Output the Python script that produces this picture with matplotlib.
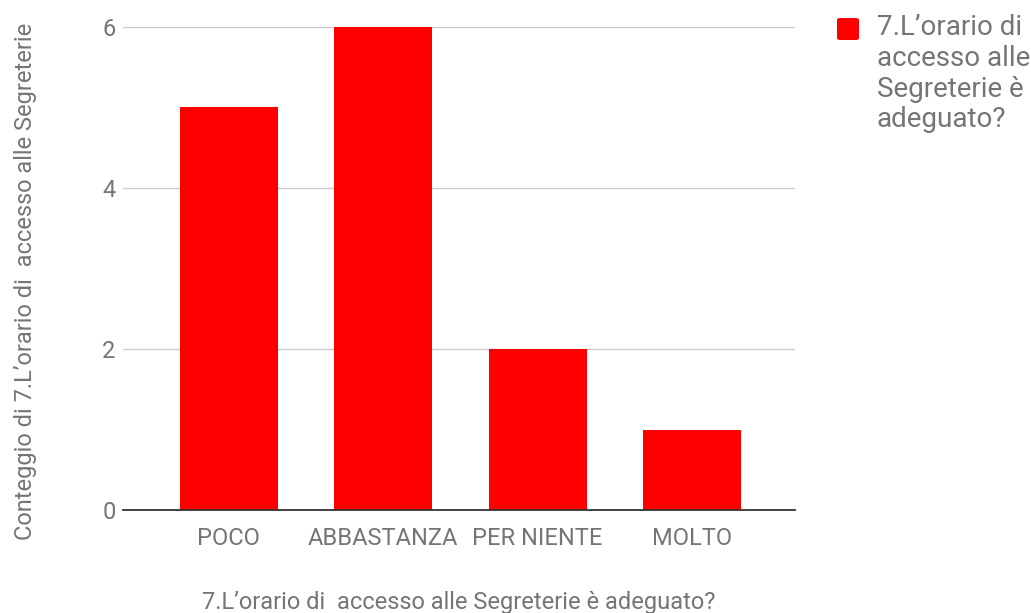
import matplotlib
matplotlib.use("Agg")
import matplotlib.pyplot as plt
from matplotlib.patches import FancyBboxPatch

categories = ["POCO", "ABBASTANZA", "PER NIENTE", "MOLTO"]
values = [5, 6, 2, 1]
y_ticks = [0, 2, 4, 6]
series_name = "7.L\u2019orario di\naccesso alle\nSegreterie è\nadeguato?"
x_title = "7.L\u2019orario di  accesso alle Segreterie è adeguato?"
y_title = "Conteggio di 7.L\u2019orario di  accesso alle Segreterie"

plt.rcParams['font.family'] = ['Roboto', 'DejaVu Sans']
TXT = '#757575'

fig = plt.figure(figsize=(10.31, 6.13), dpi=100)
ax = fig.add_axes([0.119, 0.168, 0.652, 0.788])

x = list(range(len(categories)))
ax.bar(x, values, width=0.635, color='#ff0000', zorder=3)
ax.set_xlim(-0.686, 3.665)
ax.set_ylim(0, 6)
ax.set_yticks(y_ticks)
ax.set_yticklabels([str(t) for t in y_ticks])
ax.set_xticks(x)
ax.set_xticklabels(categories)
ax.grid(axis='y', color='#cccccc', linewidth=1, zorder=0)
for s in ['top', 'right', 'left']:
    ax.spines[s].set_visible(False)
ax.spines['bottom'].set_color('#333333')
ax.spines['bottom'].set_linewidth(1.3)
ax.spines['bottom'].set_zorder(4)
ax.tick_params(axis='both', length=0, colors=TXT, labelsize=17)
ax.tick_params(axis='y', pad=5)
ax.tick_params(axis='x', pad=12)
ax.set_xlabel(x_title, color=TXT, fontsize=17, labelpad=30)
ax.set_ylabel(y_title, color=TXT, fontsize=17)
ax.yaxis.label.set_verticalalignment('center')
ax.yaxis.set_label_coords(-0.145, 0.474)

# legend
fig.patches.append(FancyBboxPatch((837 / 1031, 1 - 40 / 613), 22 / 1031, 22 / 613,
                                  boxstyle='round,pad=0,rounding_size=0.003',
                                  transform=fig.transFigure, facecolor='#ff0000',
                                  edgecolor='none'))
fig.text(877 / 1031, 1 - 14 / 613, series_name, color=TXT, fontsize=20,
         va='top', ha='left', linespacing=1.18)

fig.savefig('out.png', dpi=100)
